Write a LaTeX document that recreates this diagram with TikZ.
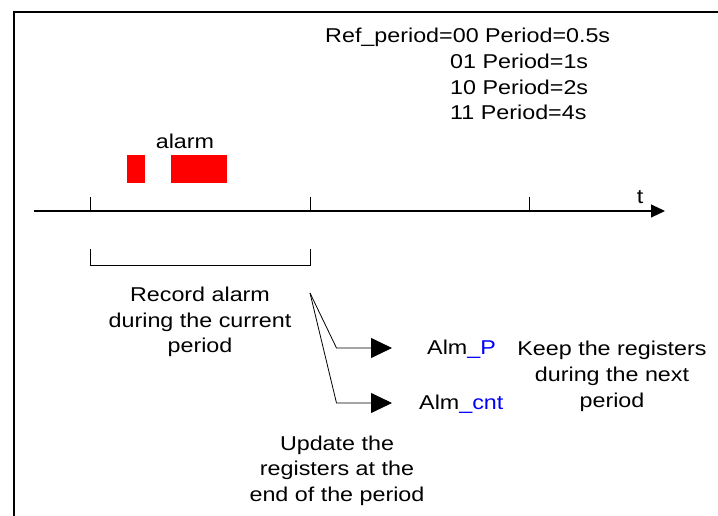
\documentclass[tikz,border=0pt]{standalone}
\usepackage{fontspec}
\setmainfont{Liberation Sans}
\usetikzlibrary{arrows.meta}
\definecolor{alarmred}{RGB}{255,0,0}
\definecolor{sigblue}{RGB}{0,0,255}
\tikzset{
  lbl/.style={inner sep=0pt, font=\fontsize{20}{25.7}\selectfont, align=center, xscale=1.165},
  thin line/.style={line width=0.8pt, draw=black},
  bigarrow/.style={thin line, -{Triangle[length=21pt,width=20pt]}},
  pulse/.style={fill=alarmred, draw=none},
}
\begin{document}
\begin{tikzpicture}[x=1pt,y=-1pt]
\useasboundingbox (0,0) rectangle (718,516);
% frame (only its top and left edges fall inside the page)
\draw[line width=1.6pt] (14,530) -- (14,12) -- (730,12);

% period table
\node[lbl, anchor=base west] (r0) at (325,42.7) {Ref\_period=00 Period=0.5s};
\node[lbl, anchor=base west] (r1) at (450,68.5) {01 Period=1s};
\node[lbl, anchor=base west] (r2) at (450,94.3) {10 Period=2s};
\node[lbl, anchor=base west] (r3) at (450,120) {11 Period=4s};

% alarm pulses
\node[lbl, anchor=base] (alarm) at (185,149) {alarm};
\fill[pulse] (127,155) rectangle (145,183);
\fill[pulse] (171,155) rectangle (227,183);

% time axis
\coordinate (a0) at (34,211);
\coordinate (a1) at (665,211);
\draw[line width=1pt, -{Triangle[length=14pt,width=13pt]}] (a0) -- (a1);
\node[lbl, anchor=base] (t) at (640,204) {t};
\foreach \x/\n in {90/k0,310/k1,529/k2}{
  \coordinate (\n) at (\x,211);
  \draw[thin line] (\n) -- ++(0,-14);
}

% current period bracket
\coordinate (b0) at (90,249);
\coordinate (b1) at (310,249);
\draw[thin line] (b0) -- ++(0,16) -| (b1);

\node[lbl] (rec) at (200,322) {Record alarm\\during the current\\period};

% register updates
\coordinate (src) at (310,293);
\node[lbl, anchor=base west] (almp) at (427,354) {Alm\textcolor{sigblue}{\_P}};
\node[lbl, anchor=base west] (almc) at (419,409) {Alm\textcolor{sigblue}{\_cnt}};
\coordinate (e1) at (336.5,348);
\coordinate (e2) at (336.5,403);
\draw[bigarrow] (src) -- (e1) -- (392,348);
\draw[bigarrow] (src) -- (e2) -- (392,403);

\node[lbl] (keep) at (612,376.5) {Keep the registers\\during the next\\period};
\node[lbl] (upd) at (337,470.8) {Update the\\registers at the\\end of the period};
\end{tikzpicture}
\end{document}
